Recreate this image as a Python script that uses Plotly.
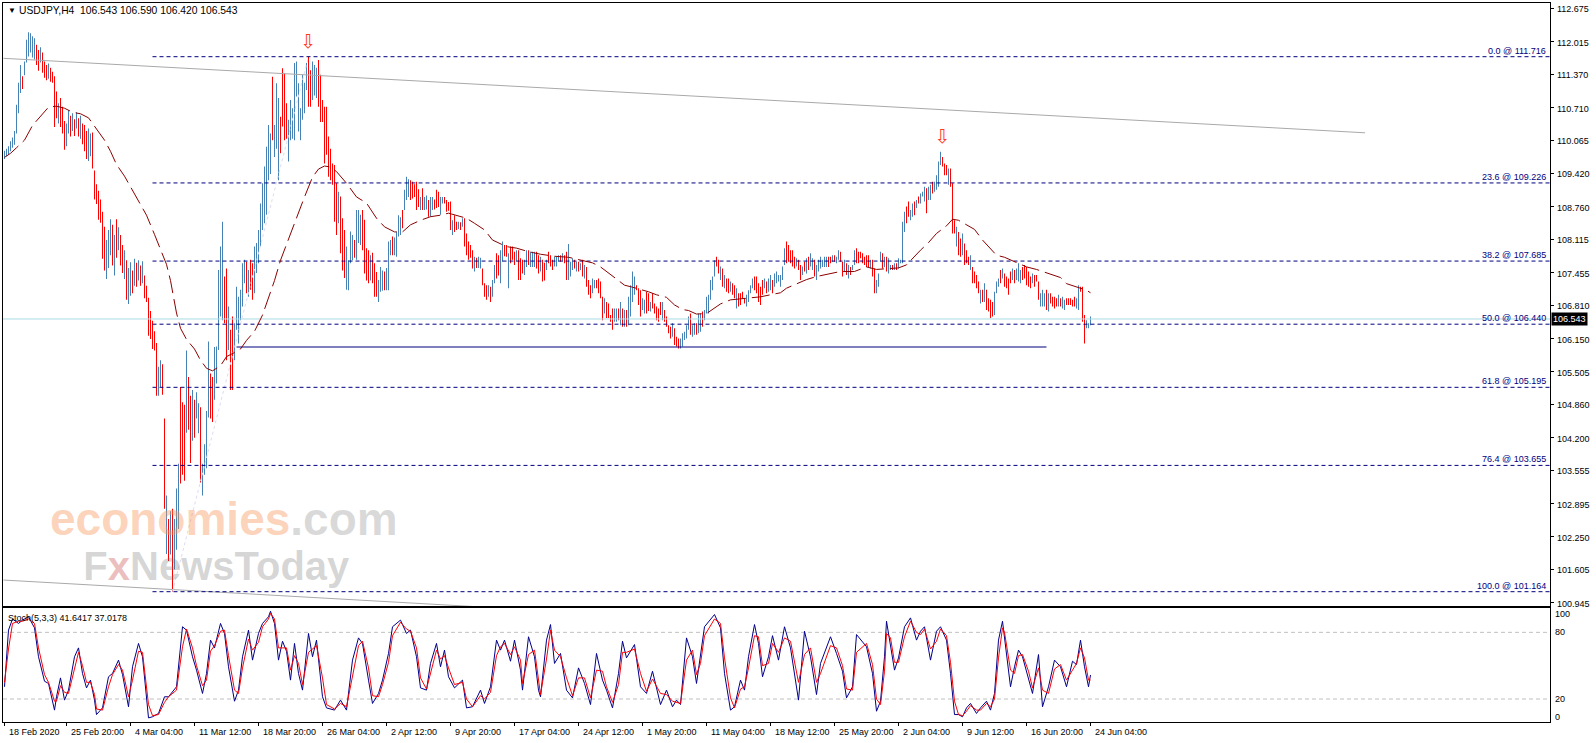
import plotly.graph_objects as go

# ---------------- DATA ----------------
SYMBOL_TITLE = "USDJPY,H4\u00a0\u00a0106.543 106.590 106.420 106.543"
STOCH_TITLE = "Stoch(5,3,3) 41.6417 37.0178"
LAST_PRICE = 106.543

# H4 bar highs / lows (bar index 0 = first visible bar), direction u=bull d=bear
HIGH = [
    109.86,109.90,109.95,110.05,110.12,110.25,110.77,111.20,111.55,111.33,
    111.62,112.05,112.20,112.18,112.12,112.08,111.95,111.85,111.90,111.80,
    111.62,111.55,111.58,111.50,111.42,111.33,111.03,110.80,110.90,110.73,
    110.45,110.40,110.66,110.55,110.60,110.48,110.62,110.50,110.55,110.40,
    110.37,110.25,110.30,110.20,110.22,109.47,109.20,109.07,108.90,108.66,
    108.36,108.10,108.30,108.51,108.40,108.20,108.51,108.35,108.20,108.00,
    107.90,107.70,107.55,107.66,107.50,107.73,107.65,107.70,107.60,107.68,
    107.40,107.20,106.96,106.70,106.51,106.30,106.07,105.60,105.73,105.65,
    104.58,103.06,102.60,102.75,102.80,102.60,103.20,103.69,105.20,104.90,
    104.85,105.92,105.40,105.03,105.14,104.95,105.10,104.88,104.80,103.69,
    104.07,104.73,106.10,105.47,105.40,105.99,106.00,107.51,107.97,108.46,
    107.38,107.54,106.79,106.33,106.59,106.46,107.18,106.98,107.12,107.64,
    107.71,107.67,107.51,107.71,107.64,107.97,108.04,108.30,108.82,109.22,
    109.55,109.94,110.37,110.20,111.32,110.37,111.19,110.90,110.53,111.49,
    111.39,110.80,110.47,110.86,110.70,111.59,111.62,111.19,110.70,111.36,
    111.20,111.59,111.716,111.45,111.62,111.55,111.50,111.65,111.36,110.86,
    110.73,110.73,110.14,109.90,109.61,109.58,109.22,109.05,108.96,108.53,
    108.30,107.97,107.70,108.27,108.20,108.10,108.69,108.69,108.60,108.69,
    108.50,107.94,107.90,107.80,107.85,107.64,107.47,107.31,107.57,107.50,
    107.48,107.55,108.07,108.10,108.17,108.15,108.27,108.59,108.55,108.69,
    109.09,109.35,109.30,109.28,109.25,109.20,109.25,109.10,108.95,109.12,
    108.95,108.98,108.89,108.95,108.95,108.90,109.09,109.05,108.95,108.95,
    108.95,108.89,108.85,108.86,108.49,108.59,108.46,108.46,108.45,108.53,
    108.53,108.23,108.07,108.00,107.90,107.77,107.75,107.77,107.75,107.54,
    107.25,107.21,107.21,107.18,107.31,107.61,107.84,107.80,107.90,108.07,
    108.00,108.00,107.84,107.97,107.97,107.87,107.90,107.90,107.74,107.71,
    107.71,107.90,107.90,107.87,107.87,107.87,107.87,107.80,107.77,107.71,
    107.65,107.71,107.87,107.80,107.71,107.77,107.77,107.80,107.80,107.84,
    107.80,107.87,108.02,107.67,107.74,107.71,107.67,107.67,107.64,107.71,
    107.61,107.57,107.31,107.21,107.34,107.31,107.31,107.34,107.28,106.98,
    106.95,106.88,106.85,106.62,106.75,106.75,106.75,106.75,106.88,106.75,
    106.72,106.72,106.98,107.21,107.48,107.38,107.21,107.15,107.11,106.95,
    106.92,107.08,107.05,106.88,107.05,106.85,106.79,106.75,106.88,106.88,
    106.72,106.59,106.42,106.39,106.46,106.36,106.19,106.16,106.16,106.26,
    106.29,106.42,106.59,106.65,106.42,106.46,106.46,106.65,106.65,106.69,
    106.72,106.98,107.02,107.31,107.38,107.70,107.77,107.71,107.58,107.54,
    107.41,107.34,107.34,107.28,107.25,107.21,107.15,107.05,107.05,107.08,
    106.95,107.02,107.11,107.21,107.34,107.38,107.38,107.25,107.18,107.31,
    107.34,107.28,107.34,107.41,107.31,107.44,107.48,107.41,107.41,107.58,
    107.94,108.07,108.00,107.90,107.90,107.77,107.74,107.71,107.61,107.58,
    107.67,107.74,107.77,107.84,107.74,107.71,107.61,107.71,107.77,107.71,
    107.77,107.77,107.77,107.77,107.80,107.80,107.77,107.90,107.87,107.67,
    107.71,107.64,107.61,107.57,107.61,107.90,107.94,107.87,107.87,107.84,
    107.77,107.80,107.80,107.71,107.71,107.54,107.31,107.44,107.87,107.84,
    107.77,107.77,107.74,107.61,107.61,107.64,107.64,107.74,107.71,108.46,
    108.66,108.76,108.86,108.69,108.82,108.86,108.89,108.96,109.02,109.05,
    109.15,109.12,109.15,109.19,109.25,109.25,109.38,109.65,109.84,109.74,
    109.61,109.58,109.51,109.51,109.22,108.49,108.36,108.26,108.13,108.23,
    108.03,107.90,107.77,107.80,107.57,107.48,107.41,107.28,107.12,107.12,
    107.25,107.12,106.95,106.92,106.88,107.08,107.28,107.34,107.51,107.54,
    107.44,107.38,107.34,107.48,107.54,107.51,107.54,107.64,107.51,107.57,
    107.61,107.57,107.48,107.38,107.44,107.41,107.41,107.28,107.05,107.12,
    107.05,107.12,107.05,107.05,106.98,106.98,106.95,107.02,106.95,106.98,
    106.92,106.95,106.95,106.95,106.92,106.98,106.95,107.21,107.18,107.18,
    106.62,106.52,106.46,106.59,
]
LOW = [
    109.70,109.75,109.78,109.85,109.92,109.98,110.20,110.60,111.00,111.08,
    111.35,111.60,111.72,111.80,111.70,111.66,111.55,111.44,111.60,111.40,
    111.30,111.25,111.28,111.22,111.20,110.33,110.50,110.40,110.33,110.20,
    109.88,109.95,110.20,110.14,110.25,110.15,110.30,110.14,110.10,109.99,
    109.85,109.70,109.66,109.75,109.51,108.90,108.81,108.50,108.44,107.73,
    107.50,107.33,107.55,107.80,107.60,107.40,107.75,107.90,107.60,107.45,
    107.33,106.92,106.84,107.00,107.05,107.20,107.18,107.30,107.20,107.25,
    106.95,106.88,106.21,106.15,105.95,105.92,105.03,105.03,105.20,105.05,
    102.80,101.91,101.77,101.90,101.16,101.60,101.99,102.40,103.30,103.47,
    103.35,104.30,104.36,103.70,104.14,104.20,104.58,104.29,103.32,103.06,
    103.47,103.60,104.60,104.58,104.51,104.95,105.27,105.93,106.59,106.52,
    106.46,105.73,105.93,105.14,105.14,105.73,106.33,106.06,106.52,106.79,
    107.25,107.05,106.98,107.12,106.92,107.05,107.45,107.64,107.97,108.30,
    108.43,108.60,109.28,109.40,110.07,109.74,109.90,109.28,109.81,110.34,
    110.07,110.10,109.65,110.07,110.10,110.07,110.93,110.24,110.07,110.47,
    110.60,111.06,110.73,110.73,110.86,110.95,110.90,110.73,110.43,110.43,
    109.61,109.78,109.35,109.28,109.19,108.46,108.20,108.43,107.84,107.50,
    107.35,107.12,107.11,107.64,107.70,107.75,107.71,108.04,108.00,107.90,
    107.44,107.30,107.25,107.30,107.25,106.98,106.98,106.88,107.08,107.10,
    107.11,107.11,107.11,107.80,107.80,107.80,107.77,108.17,108.20,108.33,
    108.69,108.89,108.95,108.89,108.92,108.95,108.69,108.75,108.69,108.69,
    108.69,108.70,108.56,108.56,108.69,108.70,108.73,108.75,108.60,108.82,
    108.82,108.66,108.68,108.30,108.20,108.26,108.30,108.32,108.30,108.36,
    107.97,107.80,107.71,107.75,107.54,107.48,107.55,107.55,107.54,107.21,
    106.98,106.92,106.98,106.88,106.98,107.25,107.34,107.40,107.25,107.67,
    107.78,107.77,107.15,107.64,107.71,107.61,107.67,107.31,107.31,107.44,
    107.41,107.57,107.61,107.57,107.57,107.57,107.54,107.44,107.48,107.28,
    107.30,107.51,107.64,107.58,107.51,107.58,107.58,107.67,107.67,107.67,
    107.64,107.31,107.31,107.38,107.51,107.54,107.48,107.48,107.51,107.38,
    107.34,107.18,107.02,106.95,107.05,107.15,107.15,107.05,106.95,106.52,
    106.65,106.56,106.56,106.49,106.33,106.49,106.49,106.52,106.42,106.39,
    106.39,106.39,106.42,106.59,106.88,107.02,107.11,106.82,106.59,106.72,
    106.65,106.65,106.70,106.69,106.75,106.65,106.52,106.49,106.62,106.52,
    106.49,106.39,106.26,106.16,106.19,106.03,106.00,105.96,105.96,106.00,
    106.13,106.16,106.33,106.23,106.19,106.23,106.23,106.26,106.29,106.39,
    106.52,106.65,106.65,106.92,107.11,107.38,107.58,107.44,107.31,107.18,
    107.15,107.08,107.05,107.08,107.02,106.95,106.75,106.79,106.82,106.95,
    106.85,106.79,106.88,107.05,107.15,107.11,107.05,106.88,106.82,107.02,
    107.15,107.05,107.08,107.11,107.05,107.18,107.25,107.28,107.18,107.31,
    107.61,107.64,107.67,107.64,107.58,107.54,107.58,107.51,107.31,107.41,
    107.48,107.44,107.51,107.58,107.51,107.38,107.31,107.48,107.54,107.57,
    107.57,107.57,107.57,107.64,107.67,107.67,107.64,107.71,107.67,107.38,
    107.48,107.41,107.34,107.41,107.51,107.61,107.64,107.64,107.74,107.64,
    107.61,107.57,107.57,107.54,107.38,107.05,107.05,107.18,107.67,107.54,
    107.57,107.48,107.44,107.51,107.51,107.51,107.51,107.54,107.64,107.64,
    108.26,108.43,108.56,108.49,108.56,108.59,108.73,108.82,108.82,108.96,
    108.86,108.63,108.89,108.89,109.02,109.05,109.09,109.15,109.58,109.55,
    109.38,109.38,109.19,109.15,108.23,108.23,107.97,107.80,107.77,107.80,
    107.61,107.64,107.61,107.51,107.25,107.25,107.15,107.05,106.85,106.88,
    106.88,106.72,106.69,106.56,106.59,106.62,107.05,107.18,107.25,107.34,
    107.18,107.15,107.02,107.25,107.31,107.25,107.31,107.28,107.25,107.31,
    107.34,107.21,107.18,107.15,107.25,107.18,107.28,106.92,106.79,106.79,
    106.79,106.72,106.69,106.85,106.79,106.75,106.79,106.79,106.79,106.75,
    106.72,106.82,106.82,106.82,106.79,106.79,106.75,106.72,107.08,106.49,
    106.06,106.36,106.36,106.42,
]
DIRECTION = (
    "uuuuuuuuud" "uuuuuuddud" "dduddddudd" "duudududud" "dduudddddd"
    "duuudududd" "uduudududu" "ddddddduud" "dududuuudd" "dudduduudu"
    "uuudduuuuu" "ddudduuuuu" "ududduuuuu" "uuuuduuudd" "dduuuuuuuu"
    "uudduuuddd" "dddddddudd" "duuuuduuud" "ddduddduuu" "duuuduuuud"
    "uuudddddud" "uuduuddduu" "dddduddudu" "ddddduduud" "dduduudduu"
    "dduddduddd" "uuduuuddud" "duddduuudu" "dduuududud" "uddduudddd"
    "udddduudud" "uduuuudddu" "uddudddddu" "dddduddduu" "uuuduuduud"
    "uuuuuuddud" "uddudduddd" "duuuuddddd" "uduuduuuuu" "uddddduddu"
    "duduuduuuu" "uudduduudd" "ududuudddd" "dddudduuud" "uduududuuu"
    "udduududuu" "uduuduuuud" "dduddduddu" "ddduddddud" "udddduuudu"
    "dddduduuud" "dddduddduu" "ududdddudu" "uddddduudd" "duuu"
)

# dashed moving average (bar index, price)
MA_IDX = [0,3,6,10,14,18,22,26,30,34,38,42,46,50,53,56,60,64,68,71,75,78,81,83,86,88,91,95,98,101,
          104,108,111,115,118,121,125,129,132,135,138,142,146,150,154,157,160,163,166,171,176,181,186,190,195,
          199,203,208,213,218,222,226,231,235,240,244,247,251,256,262,268,275,282,286,290,294,298,301,306,310,
          314,318,322,326,331,335,339,342,346,351,354,358,363,368,373,378,383,388,391,396,401,406,413,418,425,
          431,436,441,447,451,454,458,462,466,471,474,477,481,485,489,493,496,500,505,508,511,516,523,528,531,
          536,541,543]
MA_VAL = [109.73,109.81,109.92,110.07,110.36,110.55,110.72,110.74,110.70,110.62,110.59,110.51,110.29,110.07,
          109.85,109.59,109.36,109.07,108.81,108.59,108.21,107.92,107.62,107.30,106.66,106.36,106.14,105.95,
          105.73,105.57,105.52,105.62,105.80,105.88,105.95,106.12,106.30,106.62,106.95,107.30,107.70,108.12,
          108.55,108.95,109.34,109.50,109.56,109.54,109.45,109.22,108.95,108.83,108.53,108.36,108.26,108.26,
          108.40,108.49,108.56,108.59,108.63,108.59,108.53,108.43,108.30,108.10,108.04,107.97,107.94,107.87,
          107.82,107.78,107.76,107.72,107.69,107.65,107.57,107.48,107.33,107.21,107.17,107.13,107.08,107.02,
          106.97,106.82,106.73,106.71,106.64,106.65,106.73,106.84,106.92,106.94,106.95,106.98,107.02,107.06,
          107.15,107.23,107.32,107.38,107.44,107.48,107.48,107.57,107.52,107.54,107.55,107.61,107.74,107.90,
          108.05,108.23,108.38,108.51,108.49,108.40,108.31,108.10,107.93,107.80,107.76,107.67,107.61,107.57,
          107.52,107.43,107.36,107.24,107.18,107.11,107.06]

# Fibonacci retracement levels
FIB_PCT = ["0.0", "23.6", "38.2", "50.0", "61.8", "76.4", "100.0"]
FIB_VAL = [111.716, 109.226, 107.685, 106.440, 105.195, 103.655, 101.164]
FIB_START_IDX = 74
FIB_ANCHOR_IDX = [84, 152]
FIB_ANCHOR_VAL = [101.164, 111.716]

# drawn objects
UPPER_TL_IDX = [-0.5, 680.3]
UPPER_TL_VAL = [111.684, 110.215]
LOWER_TL_IDX = [-0.5, 400]
LOWER_TL_VAL = [101.394, 100.504]
SUPPORT_IDX = [116, 521]
SUPPORT_VAL = [105.99, 105.99]
ARROW_IDX = [151.7, 468.8]
ARROW_VAL = [111.99, 110.11]

# Stochastic (5,3,3)
STO_IDX = [0,2,4,7,9,12,15,17,20,22,25,26,28,30,32,35,37,39,41,43,45,46,49,52,54,57,59,62,64,67,69,72,74,77,
           80,82,86,89,91,94,96,99,101,103,105,108,110,112,115,117,119,122,124,127,129,132,133,135,137,139,141,
           143,145,147,149,152,154,156,159,161,165,168,171,174,177,179,182,184,187,189,192,194,198,201,203,206,
           208,211,213,216,218,220,222,225,229,231,234,238,240,243,246,248,250,253,255,258,259,262,265,267,268,
           271,273,275,278,281,284,287,290,293,296,299,301,304,307,309,311,315,318,321,324,328,331,334,336,338,
           341,344,346,348,350,355,358,360,363,365,368,370,372,375,377,379,382,384,387,390,393,397,400,403,406,
           408,413,416,419,421,424,426,431,434,436,438,440,441,443,445,447,450,453,456,458,460,463,466,468,471,
           473,475,477,479,481,483,486,488,491,493,495,497,499,500,503,505,507,509,512,514,517,519,522,525,528,
           531,534,536,538,540,542,543]
STO_K = [31,82,92,88,91,94,84,58,36,34,10,22,39,19,28,58,66,43,30,37,19,6,12,40,43,55,42,13,49,70,58,3,4,7,
         22,22,31,85,82,58,46,25,43,73,66,88,79,49,18,28,58,82,55,79,88,94,99,88,55,72,63,
         37,70,43,28,79,58,73,22,12,10,19,10,55,75,70,37,16,25,37,61,85,91,79,82,58,
         30,28,52,70,49,64,40,30,37,12,13,28,16,31,73,64,73,54,73,46,28,76,58,28,22,
         73,87,52,61,28,21,48,34,15,61,37,28,12,43,72,57,69,31,25,45,15,28,13,19,15,
         75,58,34,61,85,96,84,43,10,13,37,28,58,87,70,40,58,77,55,85,66,19,81,58,24,
         52,76,61,45,21,31,78,67,43,9,18,58,90,67,46,57,85,93,73,81,85,55,81,85,73,
         43,6,6,4,12,16,7,12,18,10,25,73,90,76,31,49,64,58,39,25,60,13,31,55,49,
         31,54,51,73,49,31,41.64]
STO_D = [35,65,88,90,90,92,88,66,42,35,18,18,32,26,25,48,62,50,35,35,24,11,10,31,42,51,46,22,37,63,62,15,5,6,
         17,22,28,67,83,66,50,32,37,63,68,81,82,59,28,25,48,74,64,71,85,92,97,92,66,66,66,
         46,59,52,33,62,65,68,39,15,11,16,13,40,68,72,48,23,22,33,53,77,89,83,81,66,
         39,29,44,64,56,59,48,33,35,20,13,23,20,26,59,67,70,60,67,55,34,60,64,38,24,
         56,82,64,58,39,23,39,39,21,46,45,31,17,33,62,62,65,43,27,38,25,24,18,17,16,
         55,64,42,52,77,92,88,57,21,12,29,31,48,77,76,50,52,70,62,75,72,35,60,66,35,
         43,68,66,50,29,28,62,70,51,20,15,45,79,75,53,53,76,90,80,78,83,65,72,83,77,
         53,18,6,5,9,14,10,10,16,13,20,57,84,80,46,43,59,60,45,30,48,28,25,47,51,
         37,46,52,66,57,37,37.02]

# axes labels
PRICE_TICKS = [112.675, 112.015, 111.370, 110.710, 110.065, 109.420, 108.760, 108.115, 107.455, 106.810,
               106.150, 105.505, 104.860, 104.200, 103.555, 102.895, 102.250, 101.605, 100.945]
STO_LABELS = ["100", "80", "20", "0"]
STO_LABEL_POS = [96.5, 80, 20, 3.5]
TIME_IDX = [0, 31, 63, 95, 127, 159, 191, 223, 255, 287, 319, 351, 383, 415, 447, 479, 511, 543]
TIME_LBL = ["18 Feb 2020", "25 Feb 20:00", "4 Mar 04:00", "11 Mar 12:00", "18 Mar 20:00", "26 Mar 04:00",
            "2 Apr 12:00", "9 Apr 20:00", "17 Apr 04:00", "24 Apr 12:00", "1 May 20:00", "11 May 04:00",
            "18 May 12:00", "25 May 20:00", "2 Jun 04:00", "9 Jun 12:00", "16 Jun 20:00", "24 Jun 04:00"]

# ---------------- LAYOUT GEOMETRY ----------------
W, HGT = 1596, 743
PX0, PX1 = 3, 1550
PY0, PY1 = 3, 722
MAIN_BOT, STO_TOP = 606, 608
X_RANGE = [-0.75, 772.75]
Y_RANGE = [100.882, 112.775]
S_RANGE = [-0.7, 101.9]
FONT = "Liberation Sans"

def fx(x):
    return (x - PX0) / (PX1 - PX0)

def fy(y):
    return (PY1 - y) / (PY1 - PY0)

def xdata_to_px(i):
    return PX0 + (i - X_RANGE[0]) * (PX1 - PX0) / (X_RANGE[1] - X_RANGE[0])

UP_COL, DN_COL = "#4682B4", "#FF0000"

fig = go.Figure()

idx = list(range(len(HIGH)))
fig.add_trace(go.Bar(
    x=idx, base=LOW, y=[h - l for h, l in zip(HIGH, LOW)], width=0.5,
    marker=dict(color=[UP_COL if c == "u" else DN_COL for c in DIRECTION], line=dict(width=0)),
    hoverinfo="skip", xaxis="x", yaxis="y"))

# current price line
fig.add_trace(go.Scatter(x=X_RANGE, y=[LAST_PRICE, LAST_PRICE], mode="lines",
                         line=dict(color="#A8DCE2", width=1), hoverinfo="skip"))
# trend lines
fig.add_trace(go.Scatter(x=UPPER_TL_IDX, y=UPPER_TL_VAL, mode="lines",
                         line=dict(color="#A9A9A9", width=1), hoverinfo="skip"))
fig.add_trace(go.Scatter(x=LOWER_TL_IDX, y=LOWER_TL_VAL, mode="lines",
                         line=dict(color="#A9A9A9", width=1), hoverinfo="skip"))
# fib anchor
fig.add_trace(go.Scatter(x=FIB_ANCHOR_IDX, y=FIB_ANCHOR_VAL, mode="lines",
                         line=dict(color="#DCDCF2", width=1, dash="3px,3px"), hoverinfo="skip"))
# fib levels
for v in FIB_VAL:
    fig.add_trace(go.Scatter(x=[FIB_START_IDX, X_RANGE[1]], y=[v, v], mode="lines",
                             line=dict(color="#000080", width=1, dash="4px,3px"), hoverinfo="skip"))
# support line
fig.add_trace(go.Scatter(x=SUPPORT_IDX, y=SUPPORT_VAL, mode="lines",
                         line=dict(color="#000080", width=1), hoverinfo="skip"))
# moving average
fig.add_trace(go.Scatter(x=MA_IDX, y=MA_VAL, mode="lines",
                         line=dict(color="#8B0000", width=1, dash="18px,6px"), hoverinfo="skip"))
# arrows
fig.add_trace(go.Scatter(x=ARROW_IDX, y=ARROW_VAL, mode="text", text=["\u21e9", "\u21e9"],
                         textfont=dict(color="#FF3B1F", size=19, family="DejaVu Sans"), hoverinfo="skip"))

# stochastic
for lvl in (80, 20):
    fig.add_trace(go.Scatter(x=X_RANGE, y=[lvl, lvl], mode="lines", xaxis="x2", yaxis="y2",
                             line=dict(color="#C0C0C0", width=1, dash="4px,3px"), hoverinfo="skip"))
fig.add_trace(go.Scatter(x=STO_IDX, y=STO_K, mode="lines", xaxis="x2", yaxis="y2",
                         line=dict(color="#00008B", width=1), hoverinfo="skip"))
fig.add_trace(go.Scatter(x=STO_IDX, y=STO_D, mode="lines", xaxis="x2", yaxis="y2",
                         line=dict(color="#FF0000", width=1), hoverinfo="skip"))

main_dom = [fy(MAIN_BOT), 1.0]
sto_dom = [0.0, fy(STO_TOP)]

ann = []
def A(text, x, y, xanchor="left", yanchor="middle", size=9, color="black", **kw):
    ann.append(dict(text=text, x=fx(x), y=fy(y), xref="paper", yref="paper", showarrow=False,
                    xanchor=xanchor, yanchor=yanchor,
                    font=dict(family=kw.pop("family", FONT), size=size, color=color), **kw))

# title & header
A("\u25bc", 6, 10, size=8)
A(SYMBOL_TITLE, 17, 10, size=10.3)
A(STOCH_TITLE, 6, 618, size=9)
# price axis labels
for v in PRICE_TICKS:
    ann.append(dict(text=f"{v:.3f}", x=fx(1555), y=v, xref="paper", yref="y", showarrow=False,
                    xanchor="left", yanchor="middle", yshift=-1,
                    font=dict(family=FONT, size=9, color="black")))
# stochastic right labels
for t, v in zip(STO_LABELS, STO_LABEL_POS):
    ann.append(dict(text=t, x=fx(1553), y=v, xref="paper", yref="y2", showarrow=False,
                    xanchor="left", yanchor="middle", font=dict(family=FONT, size=9, color="black")))
# time labels
for i, t in zip(TIME_IDX, TIME_LBL):
    A(t, xdata_to_px(i) + 2, 732, size=9)
# fib labels
for p, v in zip(FIB_PCT, FIB_VAL):
    ann.append(dict(text=f"{p} @ {v:.3f}", x=fx(1548), y=v, xref="paper", yref="y", showarrow=False,
                    xanchor="right", yanchor="bottom", yshift=-1,
                    font=dict(family=FONT, size=9, color="#000080")))
# last price box
ann.append(dict(text="106.543", x=fx(1551), y=LAST_PRICE, xref="paper", yref="y", showarrow=False,
                xanchor="left", yanchor="middle", bgcolor="black", borderpad=1,
                font=dict(family=FONT, size=9, color="white")))
# watermark (one text block)
A('<b><span style="font-size:46px;color:rgba(248,150,90,0.42)">economies</span>'
  '<span style="font-size:46px;color:rgba(120,120,120,0.28)">.com</span><br>'
  '<span style="font-size:40px;color:rgba(110,110,110,0.28)">\u00a0\u00a0\u00a0F</span>'
  '<span style="font-size:40px;color:rgba(200,70,70,0.35)">x</span>'
  '<span style="font-size:40px;color:rgba(110,110,110,0.28)">NewsToday</span></b>',
  48, 590, xanchor="left", yanchor="bottom", size=34.6, align="left")

fig.update_layout(
    width=W, height=HGT,
    margin=dict(l=PX0, r=W - PX1, t=PY0, b=HGT - PY1),
    paper_bgcolor="white", plot_bgcolor="white",
    showlegend=False, hovermode=False, barmode="overlay",
    font=dict(family=FONT, size=9, color="black"),
    xaxis=dict(domain=[0, 1], range=X_RANGE, anchor="y", showgrid=False, zeroline=False,
               showticklabels=False, ticks="", showline=True, mirror=True, linecolor="black", linewidth=1),
    yaxis=dict(domain=main_dom, range=Y_RANGE, side="right", anchor="x", showgrid=False, zeroline=False,
               tickmode="array", tickvals=PRICE_TICKS, showticklabels=False,
               ticks="outside", ticklen=3, tickcolor="black",
               showline=True, mirror=True, linecolor="black", linewidth=1),
    xaxis2=dict(domain=[0, 1], range=X_RANGE, anchor="y2", showgrid=False, zeroline=False,
                tickmode="array", tickvals=TIME_IDX, ticks="outside", ticklen=3, tickcolor="black",
                showticklabels=False, showline=True, mirror=True, linecolor="black", linewidth=1),
    yaxis2=dict(domain=sto_dom, range=S_RANGE, side="right", anchor="x2", showgrid=False, zeroline=False,
                showticklabels=False, ticks="", showline=True, mirror=True, linecolor="black", linewidth=1),
    annotations=ann,
)

fig.write_html("out.html", config={"displayModeBar": False},
               post_script="document.body.style.margin='0px';")
